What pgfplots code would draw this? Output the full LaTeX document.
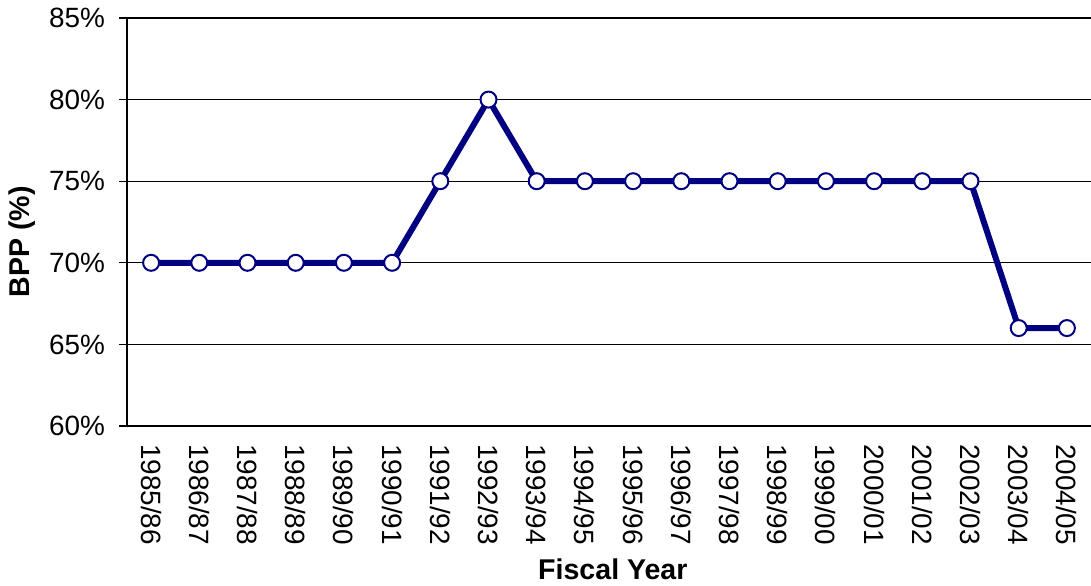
\documentclass[border=0pt]{standalone}
\usepackage{pgfplots}
\pgfplotsset{compat=1.18}
\usepackage{fontspec}
\setmainfont{Liberation Sans}
\definecolor{linenavy}{RGB}{0,0,128}
\begin{document}
\begin{tikzpicture}[x=1bp,y=1bp]
\begin{axis}[
  scale only axis,
  width=723bp, height=306bp,
  xmin=-0.5, xmax=19.5,
  ymin=60, ymax=85,
  axis x line*=bottom, axis y line*=left,
  axis line style={black, line width=1.5bp},
  ytick={60,65,...,85},
  yticklabel={\pgfmathprintnumber{\tick}\%},
  ymajorgrids,
  major grid style={black, line width=0.8bp},
  xtick={0,...,19},
  major x tick style={draw=none},
  xticklabels={1985/86,1986/87,1987/88,1988/89,1989/90,1990/91,1991/92,1992/93,1993/94,1994/95,1995/96,1996/97,1997/98,1998/99,1999/00,2000/01,2001/02,2002/03,2003/04,2004/05},
  extra x ticks={-0.5,0.5,...,19.5},
  extra x tick labels={},
  extra x tick style={major tick length=6bp, tick style={black, line width=0.8bp}, tick align=outside},
  tick align=outside,
  major tick length=6bp,
  ytick style={black, line width=0.8bp},
  tick label style={font=\fontsize{21}{25}\selectfont},
  /pgf/number format/assume math mode=true,
  xticklabel style={rotate=-90, anchor=west, xshift=4bp},
  yticklabel style={xshift=-7bp},
  xlabel={\textbf{Fiscal Year}},
  ylabel={\textbf{BPP (\%)}},
  label style={font=\fontsize{21.5}{25}\selectfont},
  xlabel style={at={(axis description cs:0.504,-0.352)}, anchor=center},
  ylabel style={at={(axis description cs:-0.109,0.451)}, anchor=center},
  clip=false,
]
\addplot[linenavy, line width=4.5bp, mark=*, mark size=6bp,
  mark options={fill=white, draw=linenavy, line width=1.5bp}]
  coordinates {
  (0,70) (1,70) (2,70) (3,70) (4,70) (5,70) (6,75) (7,80) (8,75) (9,75)
  (10,75) (11,75) (12,75) (13,75) (14,75) (15,75) (16,75) (17,75) (18,66) (19,66)
};
\end{axis}
\pgfresetboundingbox
\path (current axis.south west) ++(-95.25bp,-120bp) rectangle ++(818.25bp,439.5bp);
\end{tikzpicture}
\end{document}
